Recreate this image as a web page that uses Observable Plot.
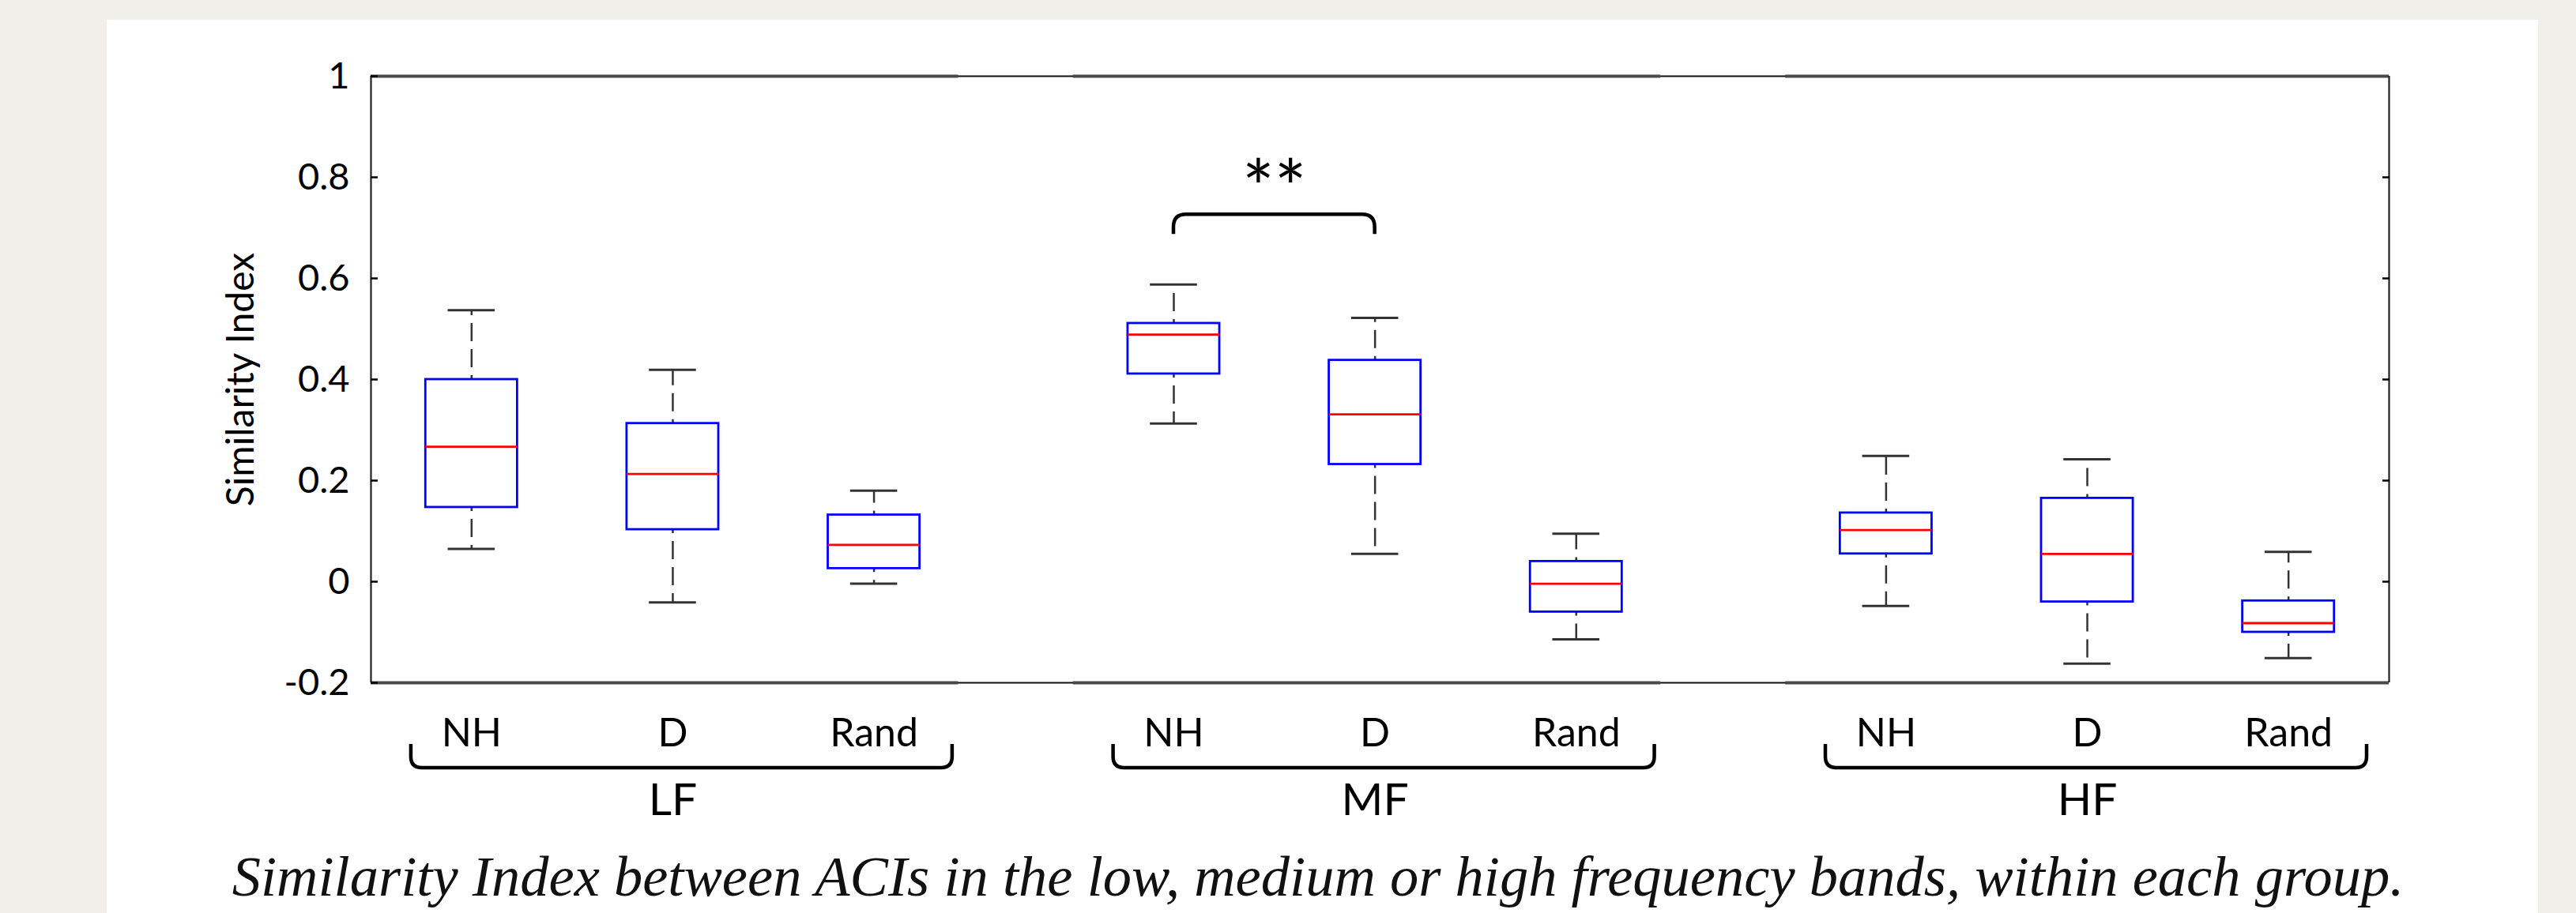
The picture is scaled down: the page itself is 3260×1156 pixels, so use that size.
<!DOCTYPE html>
<html>
<head>
<meta charset="utf-8">
<script src="https://cdn.jsdelivr.net/npm/d3@7"></script>
<script src="https://cdn.jsdelivr.net/npm/@observablehq/plot@0.6"></script>
<style>
  html, body { margin: 0; padding: 0; }
  body { width: 3260px; height: 1156px; position: relative; overflow: hidden;
         background: #f1efea; }
  #panel { position: absolute; left: 135px; top: 25px; width: 3077px; height: 1131px; background: #ffffff; }
  #chart { position: absolute; left: 0; top: 0; }
  #caption { position: absolute; left: 0; top: 1074px; width: 3336px; text-align: center;
             font-family: "Liberation Serif", serif; font-style: italic; font-size: 72.5px; line-height: 1; color: #111; }
</style>
</head>
<body>
<div id="panel"></div>
<div id="chart"></div>
<div id="caption">Similarity Index between ACIs in the low, medium or high frequency bands, within each group.</div>
<script>
// ---- data ----
const groups = ["LF", "MF", "HF"];
const conditions = ["NH", "D", "Rand"];
const positions = [1, 2, 3, 4.49, 5.49, 6.49, 8.03, 9.03, 10.03];
const whiskerLow  = [0.065, -0.041, -0.004, 0.313, 0.055, -0.114, -0.048, -0.162, -0.151];
const quartile1   = [0.147,  0.103,  0.026, 0.411, 0.232, -0.060,  0.055, -0.040, -0.100];
const medians     = [0.267,  0.213,  0.073, 0.489, 0.331, -0.004,  0.102,  0.055, -0.082];
const quartile3   = [0.400,  0.313,  0.132, 0.511, 0.438,  0.040,  0.136,  0.165, -0.038];
const whiskerHigh = [0.537,  0.419,  0.180, 0.588, 0.522,  0.095,  0.249,  0.242,  0.059];
const yTicks = [-0.2, 0, 0.2, 0.4, 0.6, 0.8, 1];
const yLabel = "Similarity Index";
const sigPair = [3, 4];          // indices of MF NH and MF D
const sigLabel = "**";
const sigBracketTop = 0.726;
const sigBracketLeg = 0.687;
const sigLabelY = 0.773;

// ---- derived tables ----
const boxes = positions.map((p, i) => ({
  pos: p, group: groups[Math.floor(i / 3)], cond: conditions[i % 3],
  lo: whiskerLow[i], q1: quartile1[i], med: medians[i], q3: quartile3[i], hi: whiskerHigh[i]
}));
const xDomain = [0.5, 10.53];
const groupInfo = groups.map((g, gi) => {
  const ps = positions.slice(gi * 3, gi * 3 + 3);
  return {
    group: g, first: ps[0], last: ps[2], center: ps[1],
    braceStart: ps[0] - 0.3, braceEnd: ps[2] + 0.39,
    segStart: gi === 0 ? xDomain[0] : ps[0] - 0.5,
    segEnd: gi === groups.length - 1 ? xDomain[1] : ps[2] + 0.42
  };
});

const BW = 0.228, CW = 0.117;

function groupBraces(index, scales, values, dims) {
  const g = d3.create("svg:g").attr("fill", "none").attr("stroke", "#000").attr("stroke-width", 4.5);
  const yb = dims.height - dims.marginBottom;
  const top = yb + 78, bot = yb + 108, r = 14;
  for (const gr of groupInfo) {
    const x0 = scales.x(gr.braceStart), x1 = scales.x(gr.braceEnd);
    g.append("path").attr("d",
      `M${x0},${top}V${bot - r}Q${x0},${bot} ${x0 + r},${bot}H${x1 - r}Q${x1},${bot} ${x1},${bot - r}V${top}`);
  }
  return g.node();
}

function sigBracket(index, scales) {
  const g = d3.create("svg:g").attr("fill", "none").attr("stroke", "#000").attr("stroke-width", 4.5);
  const x0 = scales.x(positions[sigPair[0]]), x1 = scales.x(positions[sigPair[1]]);
  const top = scales.y(sigBracketTop), leg = scales.y(sigBracketLeg), r = 16;
  g.append("path").attr("d",
    `M${x0},${leg}V${top + r}Q${x0},${top} ${x0 + r},${top}H${x1 - r}Q${x1},${top} ${x1},${top + r}V${leg}`);
  return g.node();
}

const chart = Plot.plot({
  width: 3260, height: 1060,
  marginLeft: 469, marginRight: 237, marginTop: 96, marginBottom: 196,
  style: { fontFamily: "Lato, sans-serif", background: "transparent", color: "#000", overflow: "visible" },
  x: { domain: xDomain, axis: null },
  y: { domain: [-0.2, 1], axis: null },
  marks: [
    // frame
    Plot.ruleY([-0.2, 1], { stroke: "#111", strokeWidth: 1.8 }),
    Plot.ruleY(groupInfo.flatMap(g => [{ y: 1, x1: g.segStart, x2: g.segEnd }, { y: -0.2, x1: g.segStart, x2: g.segEnd }]),
      { y: "y", x1: "x1", x2: "x2", stroke: "#4a4a4a", strokeWidth: 4 }),
    Plot.ruleX(xDomain, { stroke: "#222", strokeWidth: 2.2 }),
    // axes
    Plot.axisY(yTicks, { anchor: "left", tickSize: -9, tickPadding: 36, strokeWidth: 2.5, fontSize: 47,
      tickFormat: d => String(d), label: null }),
    Plot.axisY(yTicks.slice(1, -1), { anchor: "right", tickSize: -9, strokeWidth: 2.5, tickFormat: () => "", label: null }),
    Plot.text([yLabel], { text: d => d, frameAnchor: "left", textAnchor: "middle", dx: -164, rotate: -90, fontSize: 48 }),
    // whiskers
    Plot.ruleX(boxes, { x: "pos", y1: "q3", y2: "hi", stroke: "#333", strokeWidth: 2.5, strokeDasharray: "23,10", strokeDashoffset: 18 }),
    Plot.ruleX(boxes, { x: "pos", y1: "q1", y2: "lo", stroke: "#333", strokeWidth: 2.5, strokeDasharray: "23,10", strokeDashoffset: 18 }),
    Plot.ruleY(boxes, { y: "hi", x1: d => d.pos - CW, x2: d => d.pos + CW, stroke: "#333", strokeWidth: 3 }),
    Plot.ruleY(boxes, { y: "lo", x1: d => d.pos - CW, x2: d => d.pos + CW, stroke: "#333", strokeWidth: 3 }),
    // boxes
    Plot.rect(boxes, { x1: d => d.pos - BW, x2: d => d.pos + BW, y1: "q1", y2: "q3", fill: "none", stroke: "#0000ff", strokeWidth: 2.8 }),
    Plot.ruleY(boxes, { y: "med", x1: d => d.pos - BW, x2: d => d.pos + BW, stroke: "#ff0000", strokeWidth: 2.8 }),
    // significance
    sigBracket,
    Plot.text([sigLabel], { text: d => d, x: (positions[sigPair[0]] + positions[sigPair[1]]) / 2, y: sigLabelY, fontSize: 96 }),
    // category labels
    Plot.text(boxes, { x: "pos", text: "cond", frameAnchor: "bottom", dy: 80.5, fontSize: 50 }),
    groupBraces,
    Plot.text(groupInfo, { x: "center", text: "group", frameAnchor: "bottom", dy: 167.5, fontSize: 57 })
  ]
});
document.getElementById("chart").appendChild(chart);
</script>
</body>
</html>
